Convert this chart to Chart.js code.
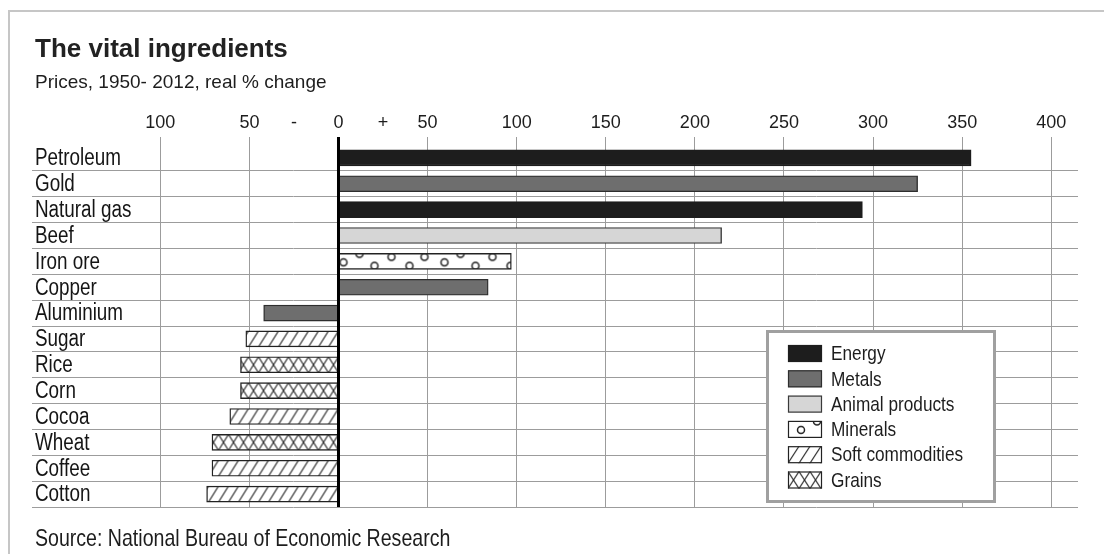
<!DOCTYPE html>
<html>
<head>
<meta charset="utf-8">
<title>The vital ingredients</title>
<script src="https://cdn.jsdelivr.net/npm/chart.js@4.4.1/dist/chart.umd.min.js"></script>
<style>
  html, body { margin: 0; padding: 0; background: #fff; }
  #wrap { position: relative; width: 1104px; height: 554px; overflow: hidden; background: #fff; }
  #frame { position: absolute; left: 8px; top: 10px; right: -10px; bottom: -10px;
           border-top: 2px solid #c6c6c6; border-left: 2px solid #c6c6c6; }
  #chart { position: absolute; left: 0; top: 0; }
  .txt { position: absolute; left: 35px; white-space: nowrap; line-height: 1; color: #1d1d1d; }
  #title { top: 33px; font: bold 26px "Liberation Sans", Arial, sans-serif; color: #222; }
  #subtitle { top: 71px; font: 19px "Liberation Sans", Arial, sans-serif; }
  /* narrow face: Liberation Sans squeezed horizontally */
  #source { top: 524px; font: 24px "Liberation Sans", Arial, sans-serif;
            transform: scaleX(0.815); transform-origin: 0 0; }
</style>
</head>
<body>
<div id="wrap">
  <div id="frame"></div>
  <canvas id="chart" width="1104" height="554"></canvas>
  <div class="txt" id="title">The vital ingredients</div>
  <div class="txt" id="subtitle">Prices, 1950- 2012, real % change</div>
  <div class="txt" id="source">Source: National Bureau of Economic Research</div>
</div>
<script>
// Commodities, top to bottom, with their real price change 1950-2012 (%)
const categories = ['Petroleum', 'Gold', 'Natural gas', 'Beef', 'Iron ore', 'Copper', 'Aluminium',
                    'Sugar', 'Rice', 'Corn', 'Cocoa', 'Wheat', 'Coffee', 'Cotton'];
const changes = [355, 325, 294, 215, 97, 84, -42, -52, -55, -55, -61, -71, -71, -74];
const categoryGroup = ['Energy', 'Metals', 'Energy', 'Animal products', 'Minerals', 'Metals', 'Metals',
                       'Soft commodities', 'Grains', 'Grains', 'Soft commodities', 'Grains',
                       'Soft commodities', 'Soft commodities'];
const groups = ['Energy', 'Metals', 'Animal products', 'Minerals', 'Soft commodities', 'Grains'];

// Axis ticks along the top: magnitudes with a minus / plus marker either side of zero
const tickValues = [-100, -50, -25, 0, 25, 50, 100, 150, 200, 250, 300, 350, 400];
const tickLabels = ['100', '50', '-', '0', '+', '50', '100', '150', '200', '250', '300', '350', '400'];

const SANS = '"Liberation Sans", Arial, sans-serif';
const SQUEEZE = 0.82;          // horizontal scale that gives the narrow look
const BAR_T = 16;
const GRID = '#9c9c9c';
const INK = '#222';

const groupStyle = {
  'Energy':           { fill: '#1d1d1d', border: '#1d1d1d' },
  'Metals':           { fill: '#6e6e6e', border: '#2e2e2e' },
  'Animal products':  { fill: '#d6d6d6', border: '#3a3a3a' },
  'Minerals':         { pattern: 'circles', border: INK },
  'Soft commodities': { pattern: 'hatch', border: INK },
  'Grains':           { pattern: 'cross', border: INK }
};

// Tile for the fill textures
function makeTile(kind, w, h) {
  const c = document.createElement('canvas');
  const t = c.getContext('2d');
  if (kind === 'circles') {
    c.width = 101; c.height = 48;
    t.fillStyle = '#fff'; t.fillRect(0, 0, c.width, c.height);
    const dots = [[5, 9], [21, 0.5], [36, 12.5], [53, 3.5], [71, 12.5], [86, 3.5]];
    t.lineWidth = 1.5; t.strokeStyle = INK;
    dots.forEach(([dx, dy]) => {
      t.beginPath(); t.arc(dx, dy, 3.5, 0, Math.PI * 2);
      t.fillStyle = '#fff'; t.fill(); t.stroke();
    });
    return c;
  }
  c.width = w; c.height = h;
  t.fillStyle = '#fff'; t.fillRect(0, 0, w, h);
  t.strokeStyle = INK; t.lineWidth = 1.1;
  t.beginPath();
  for (let k = -1; k <= 1; k++) {
    t.moveTo(k * w - w, 2 * h); t.lineTo(k * w + 2 * w, -h);          // "/"
    if (kind === 'cross') { t.moveTo(k * w - w, -h); t.lineTo(k * w + 2 * w, 2 * h); } // "\"
  }
  t.stroke();
  return c;
}

function patternAt(ctx, kind, w, h, ox, oy) {
  const p = ctx.createPattern(makeTile(kind, w, h), 'repeat');
  p.setTransform(new DOMMatrix().translate(ox, oy));
  return p;
}

function barFill(group) {
  const st = groupStyle[group];
  if (!st.pattern) return st.fill;
  return (c) => {
    const chart = c.chart;
    if (c.type !== 'data' || !chart.chartArea || !chart.scales.y) return '#fff';
    const y = chart.scales.y.getPixelForValue(c.dataIndex);
    const x0 = chart.scales.x.getPixelForValue(0);
    return patternAt(chart.ctx, st.pattern, 10, BAR_T, x0, y - BAR_T / 2);
  };
}

function narrowText(ctx, text, x, y, size) {
  ctx.save();
  ctx.font = size + 'px ' + SANS;
  ctx.textBaseline = 'middle'; ctx.textAlign = 'left';
  ctx.translate(x, y); ctx.scale(SQUEEZE, 1);
  ctx.fillText(text, 0, 0);
  ctx.restore();
}

const datasets = groups.map(g => ({
  label: g,
  data: changes.map((v, i) => (categoryGroup[i] === g ? v : null)),
  backgroundColor: barFill(g),
  borderColor: groupStyle[g].border,
  borderWidth: 1.4,
  barThickness: BAR_T,
  grouped: false
}));

// Commodity names, written inside the plot at each category row of the y scale
const rowLabels = {
  id: 'rowLabels',
  afterDraw(chart) {
    const s = chart.scales.y;
    chart.ctx.fillStyle = '#151515';
    s.ticks.forEach((t, i) => {
      narrowText(chart.ctx, s.getLabelForValue(t.value), chart.chartArea.left + 3, s.getPixelForTick(i) + 1, 23);
    });
  }
};

// Bold zero line drawn over the bars' base
const zeroLine = {
  id: 'zeroLine',
  afterDatasetsDraw(chart) {
    const { ctx, chartArea } = chart;
    const x = chart.scales.x.getPixelForValue(0);
    ctx.save();
    ctx.strokeStyle = '#000'; ctx.lineWidth = 3;
    ctx.beginPath(); ctx.moveTo(x, chartArea.top - 7); ctx.lineTo(x, chartArea.bottom); ctx.stroke();
    ctx.restore();
  }
};

// Boxed key for the commodity groups
const legendPanel = {
  id: 'legendPanel',
  afterDraw(chart, args, o) {
    const ctx = chart.ctx;
    ctx.save();
    ctx.fillStyle = '#fff'; ctx.fillRect(o.x, o.y, o.w, o.h);
    ctx.lineWidth = 3; ctx.strokeStyle = '#a0a0a0';
    ctx.strokeRect(o.x + 1.5, o.y + 1.5, o.w - 3, o.h - 3);
    chart.data.datasets.forEach((ds, i) => {
      const st = groupStyle[ds.label];
      const sx = o.x + 22, sy = o.y + 15 + i * o.step, sw = 34, sh = 17;
      let fill = st.fill;
      if (st.pattern === 'circles') fill = patternAt(ctx, 'circles', 0, 0, sx + 8, sy);
      else if (st.pattern) fill = patternAt(ctx, st.pattern, 11, sh, sx, sy);
      ctx.fillStyle = fill; ctx.fillRect(sx, sy, sw, sh);
      ctx.lineWidth = 1.2; ctx.strokeStyle = st.border;
      ctx.strokeRect(sx + 0.5, sy + 0.5, sw - 1, sh - 1);
      ctx.fillStyle = '#1d1d1d';
      narrowText(ctx, ds.label, o.x + 65, sy + sh / 2 + 1, 21);
    });
    ctx.restore();
  }
};

new Chart(document.getElementById('chart'), {
  type: 'bar',
  data: { labels: categories, datasets },
  plugins: [zeroLine, rowLabels, legendPanel],
  options: {
    indexAxis: 'y',
    responsive: false,
    devicePixelRatio: 1,
    animation: false,
    events: [],
    layout: { padding: { left: 32, right: 26, top: 105, bottom: 47 } },
    plugins: {
      legend: { display: false },
      tooltip: { enabled: false },
      legendPanel: { x: 766, y: 330, w: 230, h: 173, step: 25.3 }
    },
    scales: {
      x: {
        type: 'linear', position: 'top', min: -172, max: 415,
        afterBuildTicks: s => { s.ticks = tickValues.map(v => ({ value: v })); },
        afterFit: s => { s.height = 40; },
        border: { display: false },
        grid: {
          tickLength: 8,
          color: c => (tickLabels[tickValues.indexOf(c.tick.value)] || '').match(/\d/) ? (c.tick.value === 0 ? '#000' : GRID) : 'rgba(0,0,0,0)',
          lineWidth: c => (c.tick.value === 0 ? 3 : 1)
        },
        ticks: {
          autoSkip: false, maxRotation: 0, padding: 3, color: '#1d1d1d',
          font: { family: SANS, size: 18 },
          callback: v => tickLabels[tickValues.indexOf(v)]
        }
      },
      y: {
        type: 'category', offset: true,
        afterFit: s => { s.width = 0; },
        border: { display: false },
        grid: {
          offset: true, drawTicks: false, lineWidth: 1,
          color: c => (c.index === 0 ? 'rgba(0,0,0,0)' : GRID)
        },
        ticks: { display: false, autoSkip: false }
      }
    }
  }
});
</script>
</body>
</html>
